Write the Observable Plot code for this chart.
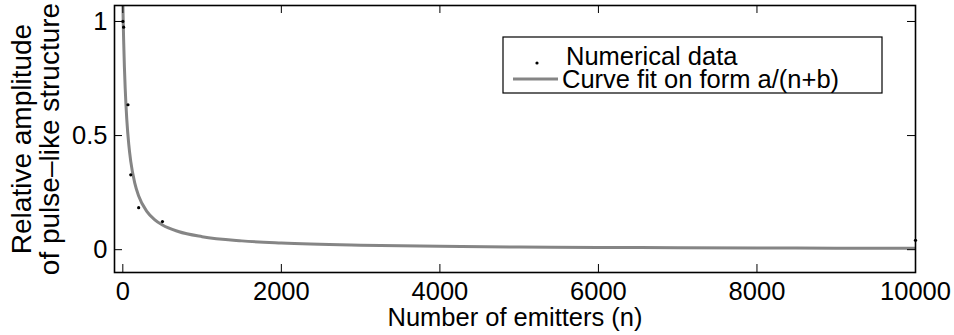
<!DOCTYPE html>
<html>
<head>
<meta charset="utf-8">
<script src="https://cdn.jsdelivr.net/npm/d3@7"></script>
<script src="https://cdn.jsdelivr.net/npm/@observablehq/plot@0.6"></script>
<style>
  html, body { margin: 0; padding: 0; background: #fff; }
  #chart svg { display: block; }
</style>
</head>
<body>
<div id="chart"></div>
<script>
// Simulated pulse amplitude versus number of emitters
const numN   = [1, 10, 65, 100, 200, 500, 10000];
const numAmp = [1.0, 0.975, 0.635, 0.328, 0.184, 0.123, 0.041];

// Fitted curve a/(n+b), sampled along n
const fitN   = [0, 5, 10, 20, 30, 40, 50, 75, 100, 150, 200, 300, 400, 500, 700,
                1000, 1500, 2000, 3000, 4000, 5000, 6000, 7000, 8000, 9000, 10000];
const fitAmp = [1.091, 1.0, 0.923, 0.8, 0.706, 0.632, 0.571, 0.4615, 0.387, 0.293, 0.235,
                0.169, 0.132, 0.108, 0.0795, 0.0569, 0.0386, 0.0292, 0.0196, 0.0148,
                0.0119, 0.0099, 0.0085, 0.0075, 0.0066, 0.006];

const xTicks = [0, 2000, 4000, 6000, 8000, 10000];
const yTicks = [0, 0.5, 1];

const legendLabels = ["Numerical data", "Curve fit on form a/(n+b)"];
const xLabel = "Number of emitters (n)";
const yLabel = "Relative amplitude\nof pulse–like structure";

const W = 954, H = 335;
const mL = 114, mR = 39, mT = 5, mB = 63;
const frameW = W - mL - mR, frameH = H - mT - mB;
const tickLen = 8;
const fs = 25.5;
const font = "'Liberation Sans', Arial, Helvetica, sans-serif";
const fitColor = "#858585";

const numerical = numN.map((n, i) => ({n, amp: numAmp[i]}));
const fit = fitN.map((n, i) => ({n, amp: fitAmp[i]}));

const chart = Plot.plot({
  width: W,
  height: H,
  marginLeft: mL,
  marginRight: mR,
  marginTop: mT,
  marginBottom: mB,
  style: {fontFamily: font, fontSize: fs + "px", color: "black", background: "white", overflow: "visible"},
  x: {domain: [-105, 10000]},
  y: {domain: [-0.1, 1.07]},
  marks: [
    // fitted curve
    Plot.line(fit, {x: "n", y: "amp", stroke: fitColor, strokeWidth: 3, curve: "monotone-x", clip: true}),
    // numerical data points
    Plot.dot(numerical, {x: "n", y: "amp", r: 1.6, fill: "black", stroke: "none"}),
    // inward ticks on all four sides
    Plot.ruleX(xTicks, {x: d => d, insetTop: frameH - tickLen, stroke: "black", strokeWidth: 1}),
    Plot.ruleX(xTicks, {x: d => d, insetBottom: frameH - tickLen, stroke: "black", strokeWidth: 1}),
    Plot.ruleY(yTicks, {y: d => d, insetRight: frameW - tickLen, stroke: "black", strokeWidth: 1}),
    Plot.ruleY(yTicks, {y: d => d, insetLeft: frameW - tickLen, stroke: "black", strokeWidth: 1}),
    Plot.frame({stroke: "black", strokeWidth: 1.6}),
    // tick labels
    Plot.axisX(xTicks, {tickSize: 0, tickPadding: 9, label: null, fontSize: fs, tickFormat: d => String(d)}),
    Plot.axisY(yTicks, {tickSize: 0, tickPadding: 7, label: null, fontSize: fs, tickFormat: d => String(d)}),
    // axis titles
    Plot.text([xLabel], {frameAnchor: "bottom", dy: 45.5, lineAnchor: "middle", textAnchor: "middle",
                         text: d => d, fontSize: fs, fill: "black"}),
    Plot.text([yLabel], {frameAnchor: "left", dx: -78, rotate: -90, lineHeight: 1.0,
                         lineAnchor: "middle", textAnchor: "middle",
                         text: d => d, fontSize: 28, fill: "black"})
  ]
});

document.getElementById("chart").appendChild(chart);

// Legend box in the upper right of the axes
const svg = d3.select(chart);
const lg = svg.append("g")
  .attr("font-family", font)
  .attr("font-size", fs)
  .attr("text-anchor", "start");
lg.append("rect")
  .attr("x", 503).attr("y", 37).attr("width", 379).attr("height", 56)
  .attr("fill", "white").attr("stroke", "black").attr("stroke-width", 1.2);
lg.append("circle")
  .attr("cx", 537).attr("cy", 63).attr("r", 1.6).attr("fill", "black");
lg.append("line")
  .attr("x1", 513).attr("x2", 558).attr("y1", 79).attr("y2", 79)
  .attr("stroke", fitColor).attr("stroke-width", 3);
lg.append("text").attr("x", 566).attr("y", 65).attr("fill", "black").text(legendLabels[0]);
lg.append("text").attr("x", 562).attr("y", 88).attr("fill", "black").text(legendLabels[1]);
</script>
</body>
</html>
